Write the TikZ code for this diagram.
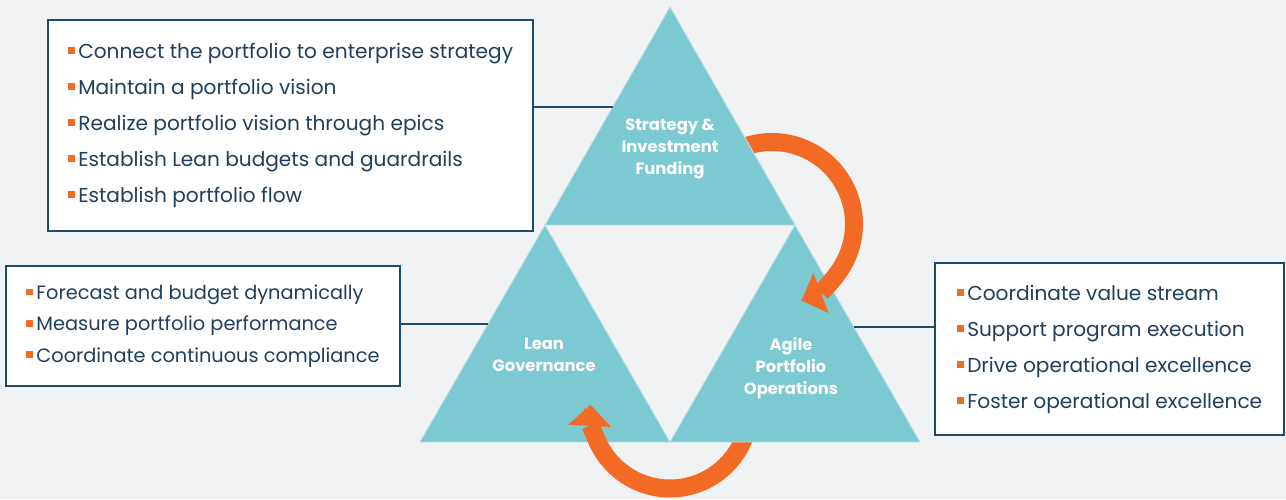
\documentclass[tikz,border=0pt]{standalone}
\usepackage{fontspec}
\setmainfont{Poppins}
\usetikzlibrary{arrows.meta,calc}
\definecolor{LpmInk}{HTML}{1F3F5C}
\definecolor{LpmNavy}{HTML}{1D4B6E}
\definecolor{LpmTeal}{HTML}{7DC9D1}
\definecolor{LpmOrange}{HTML}{F26A24}
\definecolor{LpmPaper}{HTML}{F1F2F4}
\newcommand{\lpmbullet}{{\color{LpmOrange}\rule[0.22em]{0.34em}{0.34em}}\hspace{0.18em}}
\tikzset{
  lpm/box/.style={
    draw=LpmNavy, line width=1.1pt, fill=white,
    inner xsep=0.4cm, inner ysep=0pt, align=left,
    text=LpmInk, font=\fontsize{11.45}{20.5}\selectfont
  },
  lpm/link/.style={draw=LpmNavy, line width=1.1pt},
  lpm/face/.style={fill=LpmTeal, draw=LpmTeal!55!white, line width=.5pt},
  lpm/title/.style={
    text=white, font=\fontsize{9.3}{12.5}\selectfont\bfseries, align=center
  },
  lpm/cycle/.style={
    draw=LpmOrange, line width=.36cm,
    -{Triangle[length=4.2mm,width=8.6mm,line width=0pt]}
  }
}

\begin{document}
\begin{tikzpicture}
  \fill[LpmPaper] (0,0) rectangle (25.72,9.98);
  \useasboundingbox (0,0) rectangle (25.72,9.98);

  \coordinate (sif-a) at (13.4,9.84);
  \coordinate (sif-l) at (10.9,5.48);
  \coordinate (sif-r) at (15.9,5.48);
  \coordinate (gov-a) at (10.9,5.48);
  \coordinate (gov-l) at (8.4,1.14);
  \coordinate (gov-r) at (13.4,1.14);
  \coordinate (ops-a) at (15.9,5.48);
  \coordinate (ops-l) at (13.4,1.14);
  \coordinate (ops-r) at (18.4,1.14);
  \coordinate (turn-top) at (15.44,5.50);
  \coordinate (turn-low) at (13.4,1.80);

  % triangles and the two turning arrows, back to front
  \filldraw[lpm/face] (gov-a) -- (gov-l) -- (gov-r) -- cycle;
  \draw[lpm/cycle] ([shift={(0:1.59)}]turn-low)
    arc[start angle=0, end angle=-183, radius=1.59];
  \filldraw[lpm/face] (ops-a) -- (ops-l) -- (ops-r) -- cycle;
  \draw[lpm/cycle] ([shift={(120:1.64)}]turn-top)
    arc[start angle=120, end angle=-69, radius=1.64];
  \filldraw[lpm/face] (sif-a) -- (sif-l) -- (sif-r) -- cycle;

  \node[lpm/title] (sif) at (13.4,7.0) {Strategy \&\\Investment\\Funding};
  \node[lpm/title] (gov) at (10.88,2.88) {Lean\\Governance};
  \node[lpm/title] (ops) at (15.82,2.62) {Agile\\Portfolio\\Operations};

  \node[lpm/box, minimum width=9.66cm, minimum height=4.22cm] (sif-list)
    at (5.81,7.47) {
    \lpmbullet Connect the portfolio to enterprise strategy\\
    \lpmbullet Maintain a portfolio vision\\
    \lpmbullet Realize portfolio vision through epics\\
    \lpmbullet Establish Lean budgets and guardrails\\
    \lpmbullet Establish portfolio flow};
  \node[lpm/box, minimum width=7.76cm, minimum height=2.4cm,
    font=\fontsize{11}{17.9}\selectfont] (gov-list) at (4.06,3.46) {
    \lpmbullet Forecast and budget dynamically\\
    \lpmbullet Measure portfolio performance\\
    \lpmbullet Coordinate continuous compliance};
  \node[lpm/box, minimum width=6.98cm, minimum height=3.44cm] (ops-list)
    at (22.19,3.0) {
    \lpmbullet Coordinate value stream\\
    \lpmbullet Support program execution\\
    \lpmbullet Drive operational excellence\\
    \lpmbullet Foster operational excellence};

  \coordinate (sif-hook) at ($(sif-l)!0.54!(sif-a)$);
  \coordinate (gov-hook) at ($(gov-l)!0.544!(gov-a)$);
  \coordinate (ops-hook) at ($(ops-r)!0.53!(ops-a)$);
  \draw[lpm/link] (sif-list.east |- sif-hook) -- (sif-hook);
  \draw[lpm/link] (gov-list.east |- gov-hook) -- (gov-hook);
  \draw[lpm/link] (ops-hook) -- (ops-hook -| ops-list.west);
\end{tikzpicture}
\end{document}
